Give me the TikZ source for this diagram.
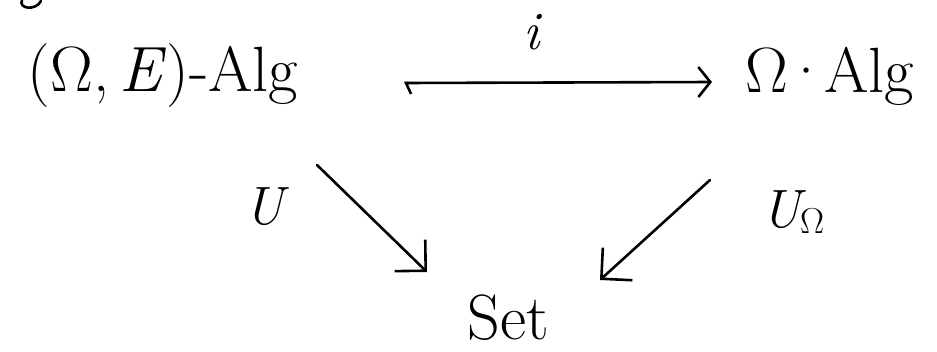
\documentclass[tikz,border=0pt]{standalone}
\usetikzlibrary{arrows.meta}
\begin{document}
\begin{tikzpicture}[x=1pt,y=-1pt,
  lbl/.style={inner sep=0pt,font=\fontsize{64}{70}\selectfont},
  smalllbl/.style={inner sep=0pt,font=\fontsize{54}{60}\selectfont\itshape},
  conn/.style={line width=2.6pt,line cap=round,line join=round},
  bigtip/.style={-{Straight Barb[length=22pt,width=44pt,line width=2.6pt]}},
  hooktip/.style={{Straight Barb[left,length=5pt,width=22pt,line width=2.6pt]}-{Straight Barb[length=12pt,width=30pt,line width=2.6pt]}}]
\useasboundingbox (0,0) rectangle (937,351);
% stray fragment at top-left
\draw[conn] (22,0) .. controls (18,9) and (36,11) .. (41,1);
\node[lbl] (A) at (163,76) {(Ω,\,\textit{E})-Alg};
\node[lbl] (B) at (830,76) {Ω\kern-0.08em·\kern-0.08em Alg};
\node[lbl] (C) at (508,318) {Set};
\node[smalllbl] (i) at (532,32) {i};
\node[smalllbl] (U) at (264,207) {U};
\node[smalllbl] (UO) at (793,212) {U\raisebox{-0.25ex}{\fontsize{36}{40}\selectfont\upshape Ω}};
\coordinate (h1) at (404,83);
\coordinate (h2) at (712,82);
\coordinate (a1) at (317,165);
\coordinate (a2) at (427,272);
\coordinate (b1) at (710,180);
\coordinate (b2) at (600,280);
\draw[conn,hooktip] (h1) -- (h2);
\draw[conn,bigtip] (a1) -- (a2);
\draw[conn,bigtip] (b1) -- (b2);
\end{tikzpicture}
\end{document}
